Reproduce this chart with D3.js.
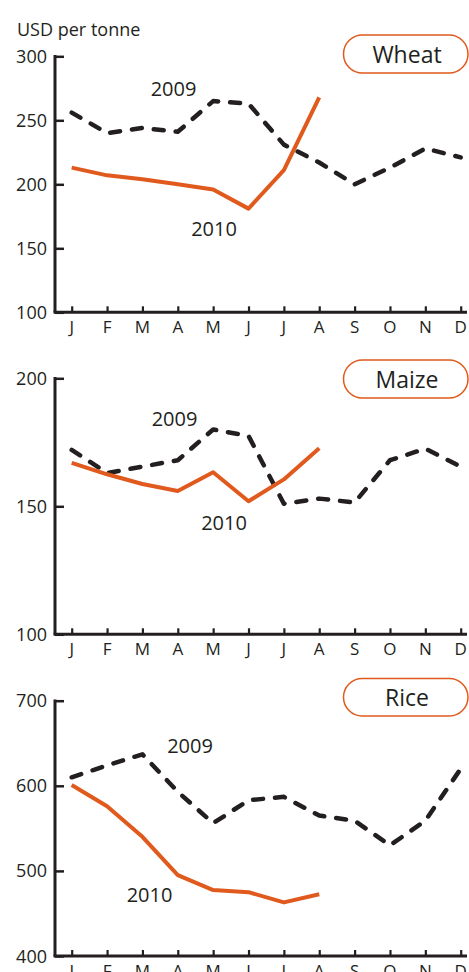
<!DOCTYPE html>
<html>
<head>
<meta charset="utf-8">
<script src="https://cdn.jsdelivr.net/npm/d3@7/dist/d3.min.js"></script>
<style>
  html, body { margin: 0; padding: 0; background: #fff; }
  svg { display: block; }
  text { font-family: "Open Sans", "Noto Sans", sans-serif; fill: #231f20; }
</style>
</head>
<body>
<svg id="chart" width="469" height="972"></svg>
<script>
// ---- Data ----
const months = ["J", "F", "M", "A", "M", "J", "J", "A", "S", "O", "N", "D"];
const monthKeys = months.map((m, i) => i);

const wheat2009 = [256, 240, 244, 241, 265, 263, 231, 217, 200, 213, 228, 221];
const wheat2010 = [213, 207, 204, 200, 196, 181, 211, 268];
const wheatTicks = [100, 150, 200, 250, 300];

const maize2009 = [172, 163, 165.5, 168, 180, 177.5, 151, 153, 151.5, 168, 172.5, 165.5];
const maize2010 = [167, 162.5, 158.7, 156, 163.3, 152, 160.5, 172.7];
const maizeTicks = [100, 150, 200];

const rice2009 = [610, 624, 637, 593, 556, 583, 587, 565, 559, 530, 559, 620];
const rice2010 = [601, 576, 540, 495, 477.5, 475, 463, 472.5];
const riceTicks = [400, 500, 600, 700];

const panelTitles = ["Wheat", "Maize", "Rice"];
const yearLabels = ["2009", "2010"];
const unitLabel = "USD per tonne";

// ---- Layout ----
const ORANGE = "#e05a1e";
const DARK = "#231f20";
const svg = d3.select("#chart");

const x = d3.scalePoint().domain(monthKeys).range([71.7, 460.7]);

const panels = [
  { title: panelTitles[0], s09: wheat2009, s10: wheat2010, ticks: wheatTicks,
    y: d3.scaleLinear().domain([100, 300]).range([312.3, 56.3]),
    box: [35, 73], lab09: [173.5, 96], lab10: [214, 236] },
  { title: panelTitles[1], s09: maize2009, s10: maize2010, ticks: maizeTicks,
    y: d3.scaleLinear().domain([100, 200]).range([634.3, 378.3]),
    box: [360, 398], lab09: [174.5, 426], lab10: [224, 530] },
  { title: panelTitles[2], s09: rice2009, s10: rice2010, ticks: riceTicks,
    y: d3.scaleLinear().domain([400, 700]).range([956, 700.7]),
    box: [678.5, 716], lab09: [190, 753], lab10: [149.5, 902] }
];

const axisX = 55;

svg.append("text")
  .attr("x", 17).attr("y", 36)
  .attr("font-size", 18)
  .text(unitLabel);

panels.forEach(p => {
  const g = svg.append("g");
  const y = p.y;
  const [y0, y1] = y.range();

  // y axis
  const yAxis = d3.axisRight(y).tickValues(p.ticks).tickSize(9).tickFormat("");
  const ya = g.append("g").attr("transform", `translate(${axisX},0)`).call(yAxis);
  ya.select(".domain").remove();
  ya.selectAll(".tick line").attr("stroke", DARK).attr("stroke-width", 2.5);

  g.append("line")
    .attr("x1", axisX).attr("x2", axisX)
    .attr("y1", y1 - 1.25).attr("y2", y0)
    .attr("stroke", DARK).attr("stroke-width", 3);

  g.selectAll(".ylab").data(p.ticks).join("text")
    .attr("class", "ylab")
    .attr("x", 47).attr("y", d => y(d) + 6.5)
    .attr("text-anchor", "end")
    .attr("font-size", 18)
    .text(d => d);

  // x axis
  const xAxis = d3.axisTop(x).tickSize(6).tickFormat("");
  const xa = g.append("g").attr("transform", `translate(0,${y0})`).call(xAxis);
  xa.select(".domain").remove();
  xa.selectAll(".tick line").attr("stroke", DARK).attr("stroke-width", 2.2);

  g.append("line")
    .attr("x1", axisX - 1.5).attr("x2", 467)
    .attr("y1", y0).attr("y2", y0)
    .attr("stroke", DARK).attr("stroke-width", 3);

  g.selectAll(".xlab").data(monthKeys).join("text")
    .attr("class", "xlab")
    .attr("x", d => x(d)).attr("y", y0 + 21)
    .attr("text-anchor", "middle")
    .attr("font-size", 17)
    .text(d => months[d]);

  // lines
  const line = d3.line().x((d, i) => x(i)).y(d => y(d));
  g.append("path")
    .attr("d", line(p.s09))
    .attr("fill", "none")
    .attr("stroke", DARK)
    .attr("stroke-width", 4.5)
    .attr("stroke-linecap", "round")
    .attr("stroke-linejoin", "round")
    .attr("stroke-dasharray", "10,12");

  g.append("path")
    .attr("d", line(p.s10))
    .attr("fill", "none")
    .attr("stroke", ORANGE)
    .attr("stroke-width", 4)
    .attr("stroke-linejoin", "round");

  // year labels
  g.append("text").attr("x", p.lab09[0]).attr("y", p.lab09[1])
    .attr("text-anchor", "middle").attr("font-size", 20).text(yearLabels[0]);
  g.append("text").attr("x", p.lab10[0]).attr("y", p.lab10[1])
    .attr("text-anchor", "middle").attr("font-size", 20).text(yearLabels[1]);

  // title box
  const bh = p.box[1] - p.box[0];
  g.append("rect")
    .attr("x", 343.5).attr("y", p.box[0])
    .attr("width", 124.5).attr("height", bh)
    .attr("rx", bh / 2).attr("ry", bh / 2)
    .attr("fill", "#fff")
    .attr("stroke", ORANGE).attr("stroke-width", 1.5);
  g.append("text")
    .attr("x", 407).attr("y", p.box[0] + bh / 2 + 8.5)
    .attr("text-anchor", "middle")
    .attr("font-size", 23)
    .text(p.title);
});
</script>
</body>
</html>
